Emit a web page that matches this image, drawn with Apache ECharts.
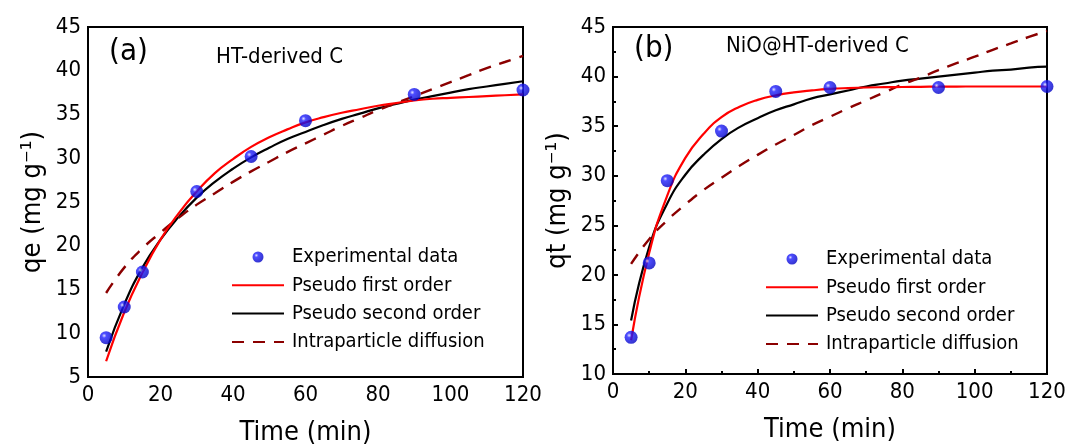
<!DOCTYPE html>
<html>
<head>
<meta charset="utf-8">
<script src="https://cdn.jsdelivr.net/npm/echarts@6/dist/echarts.min.js"></script>
<style>
html,body{margin:0;padding:0;background:#fff;}
#chart{width:1067px;height:446px;}
</style>
</head>
<body>
<div id="chart"></div>
<script>
// ---- Data ----
var expT = [5, 10, 15, 30, 45, 60, 90, 120];
var expA = [9.5, 13.0, 17.0, 26.2, 30.2, 34.3, 37.3, 37.8];
var expB = [13.7, 21.2, 29.5, 34.5, 38.5, 38.9, 38.9, 39.0];

var fitT = [5, 10, 15, 20, 25, 30, 35, 40, 45, 50, 55, 60, 65, 70, 75, 80, 85, 90, 95, 100, 105, 110, 115, 120];

var pfoA = [6.8, 12.4, 16.9, 20.7, 23.7, 26.2, 28.3, 29.9, 31.3, 32.4, 33.3, 34.1, 34.7, 35.2, 35.6, 36.0, 36.3, 36.6, 36.8, 36.9, 37.0, 37.1, 37.2, 37.3];
var psoA = [7.9, 13.3, 17.5, 20.7, 23.3, 25.5, 27.3, 28.8, 30.1, 31.2, 32.2, 33.0, 33.8, 34.5, 35.1, 35.7, 36.2, 36.7, 37.1, 37.5, 37.9, 38.2, 38.5, 38.8];
var ipdA = [14.6, 17.5, 19.7, 21.5, 23.2, 24.7, 26.0, 27.3, 28.5, 29.6, 30.7, 31.7, 32.7, 33.7, 34.6, 35.5, 36.3, 37.1, 37.9, 38.7, 39.5, 40.3, 41.0, 41.7];

var pfoB = [13.4, 22.2, 28.0, 31.8, 34.2, 35.9, 36.95, 37.65, 38.1, 38.4, 38.6, 38.75, 38.84, 38.9, 38.93, 38.95, 38.97, 38.98, 38.99, 39.0, 39.0, 39.0, 39.0, 39.0];
var psoB = [15.4, 22.8, 27.2, 30.1, 32.1, 33.7, 34.9, 35.8, 36.6, 37.2, 37.8, 38.2, 38.6, 39.0, 39.3, 39.6, 39.8, 40.0, 40.2, 40.4, 40.6, 40.7, 40.9, 41.0];
var ipdB = [21.1, 23.6, 25.5, 27.1, 28.55, 29.8, 31.0, 32.1, 33.15, 34.1, 35.1, 35.95, 36.8, 37.6, 38.4, 39.2, 39.9, 40.65, 41.35, 42.0, 42.7, 43.35, 44.0, 44.6];

var seriesNames = ['Experimental data', 'Pseudo first order', 'Pseudo second order', 'Intraparticle diffusion'];
var panelTags = ['(a)', '(b)'];
var panelTitles = ['HT-derived C', 'NiO@HT-derived C'];
var yNames = ['qe (mg g\u207B\u00B9)', 'qt (mg g\u207B\u00B9)'];
var xName = 'Time (min)';

// ---- Build ----
function pairs(xs, ys) { return xs.map(function (x, i) { return [x, ys[i]]; }); }

var FONT = "'DejaVu Sans Condensed', 'DejaVu Sans', 'Noto Sans', sans-serif";
var ballColor = {
  type: 'radial', x: 0.35, y: 0.35, r: 0.7,
  colorStops: [
    { offset: 0, color: '#dcdcff' },
    { offset: 0.25, color: '#2020ff' },
    { offset: 1, color: '#0000c0' }
  ]
};

function xAxis(gi, ticks) {
  return {
    type: 'value', gridIndex: gi, min: 0, max: 120, interval: 20,
    name: xName, nameLocation: 'middle', nameGap: 42,
    nameTextStyle: { fontSize: 27, color: '#000', fontFamily: FONT },
    axisLine: { show: true, lineStyle: { color: '#000', width: 2 } },
    axisTick: { show: ticks, inside: true, length: 5, lineStyle: { color: '#000', width: 2 } },
    minorTick: { show: ticks, splitNumber: 2, length: 3, lineStyle: { color: '#000', width: 2 } },
    axisLabel: { fontSize: 22, color: '#000', margin: 7, fontFamily: FONT },
    splitLine: { show: false }, minorSplitLine: { show: false }
  };
}
function yAxis(gi, min, ticks) {
  return {
    type: 'value', gridIndex: gi, min: min, max: 45, interval: 5,
    name: yNames[gi], nameLocation: 'middle', nameGap: 42,
    nameTextStyle: { fontSize: 27, color: '#000', fontFamily: FONT },
    axisLine: { show: true, lineStyle: { color: '#000', width: 2 } },
    axisTick: { show: ticks, inside: true, length: 5, lineStyle: { color: '#000', width: 2 } },
    minorTick: { show: ticks, splitNumber: 2, length: 3, lineStyle: { color: '#000', width: 2 } },
    axisLabel: { fontSize: 22, color: '#000', margin: 7, fontFamily: FONT },
    splitLine: { show: false }, minorSplitLine: { show: false }
  };
}
function panelSeries(gi, expY, pfo, pso, ipd) {
  return [
    { name: seriesNames[1], type: 'line', xAxisIndex: gi, yAxisIndex: gi, data: pairs(fitT, pfo),
      symbol: 'none', smooth: 0.5, z: 3,
      lineStyle: { color: '#ff0000', width: 2.2 }, itemStyle: { color: '#ff0000' } },
    { name: seriesNames[2], type: 'line', xAxisIndex: gi, yAxisIndex: gi, data: pairs(fitT, pso),
      symbol: 'none', smooth: 0.5, z: 2,
      lineStyle: { color: '#000000', width: 2.2 }, itemStyle: { color: '#000000' } },
    { name: seriesNames[3], type: 'line', xAxisIndex: gi, yAxisIndex: gi, data: pairs(fitT, ipd),
      symbol: 'none', smooth: 0.5, z: 2,
      lineStyle: { color: '#8b0000', width: 2.4, type: [12, 9] }, itemStyle: { color: '#8b0000' } },
    { name: seriesNames[0], type: 'scatter', xAxisIndex: gi, yAxisIndex: gi, data: pairs(expT, expY),
      symbol: 'circle', symbolSize: 13, z: 4, itemStyle: { color: ballColor } }
  ];
}
function legend(left, top) {
  return {
    orient: 'vertical', left: left, top: top, padding: 0,
    itemWidth: 52, itemHeight: 11, itemGap: 8.3,
    data: [
      { name: seriesNames[0] },
      { name: seriesNames[1], itemStyle: { opacity: 0 } },
      { name: seriesNames[2], itemStyle: { opacity: 0 } },
      { name: seriesNames[3], itemStyle: { opacity: 0 } }
    ],
    textStyle: { fontSize: 20, lineHeight: 20, color: '#000', fontFamily: FONT, padding: [0, 0, 0, 3] },
    selectedMode: false
  };
}

var option = {
  backgroundColor: '#ffffff',
  animation: false,
  grid: [
    { left: 88, top: 27, width: 435, height: 350, outerBoundsMode: 'none', containLabel: false,
      show: true, borderColor: '#000', borderWidth: 2, backgroundColor: 'transparent' },
    { left: 613, top: 27, width: 434, height: 347, outerBoundsMode: 'none', containLabel: false,
      show: true, borderColor: '#000', borderWidth: 2, backgroundColor: 'transparent' }
  ],
  xAxis: [xAxis(0, false), xAxis(1, true)],
  yAxis: [yAxis(0, 5, false), yAxis(1, 10, true)],
  legend: [legend(231, 247), legend(765, 249)],
  graphic: [
    { type: 'text', left: 109, top: 36, style: { text: panelTags[0], font: '31px ' + FONT, fill: '#000' } },
    { type: 'text', left: 216, top: 46, style: { text: panelTitles[0], font: '22px ' + FONT, fill: '#000' } },
    { type: 'text', left: 634, top: 33, style: { text: panelTags[1], font: '31px ' + FONT, fill: '#000' } },
    { type: 'text', left: 726, top: 35, style: { text: panelTitles[1], font: '22px ' + FONT, fill: '#000' } }
  ],
  series: [].concat(
    panelSeries(0, expA, pfoA, psoA, ipdA),
    panelSeries(1, expB, pfoB, psoB, ipdB)
  )
};

var chart = echarts.init(document.getElementById('chart'), null, { renderer: 'canvas' });
chart.setOption(option);
</script>
</body>
</html>
